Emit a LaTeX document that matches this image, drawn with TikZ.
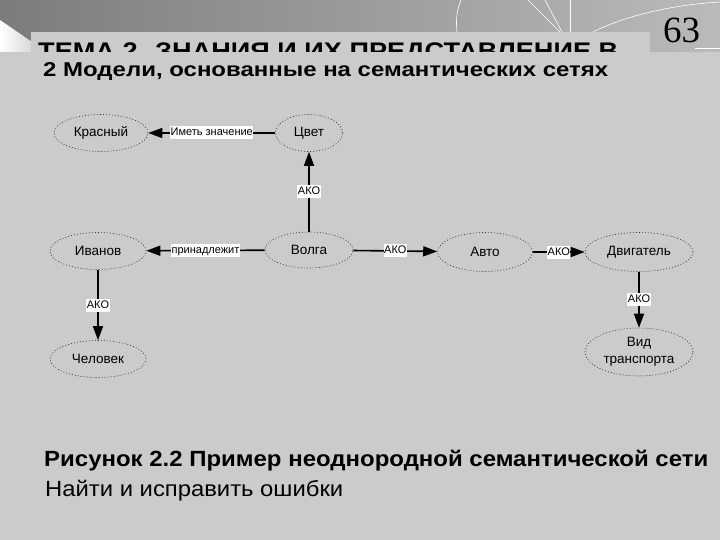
\documentclass[tikz,border=0pt]{standalone}
\usepackage{fontspec}
\usepackage{graphicx}
\setmainfont{Liberation Sans}
\newfontfamily\numfont{Liberation Serif}
\usetikzlibrary{shapes.geometric,arrows.meta}
\definecolor{panel}{HTML}{CBCBCB}
\definecolor{bandL}{HTML}{7C7C7C}
\definecolor{bandR}{HTML}{BABABA}
\definecolor{rim}{HTML}{333333}
\tikzset{
  concept/.style={ellipse, draw=rim, line width=0.6pt, dash pattern=on 1pt off 2pt,
    inner sep=0pt, font=\fontsize{13.5}{16}\selectfont, align=center},
  link/.style={line width=1.6pt, -{Triangle[length=14pt,width=10pt]}},
  lbl/.style={fill=white, inner xsep=0.6pt, inner ysep=1.5pt, font=\fontsize{11}{12}\selectfont,
    text height=8pt, text depth=2pt, midway},
  whiteline/.style={draw=white, line width=0.6pt}
}
\begin{document}
\begin{tikzpicture}[x=1pt,y=-1pt]
\useasboundingbox (0,0) rectangle (720,540);
\fill[panel] (0,0) rectangle (720,540);
% top band
\shade[left color=bandL, right color=bandR] (0,0) rectangle (720,52);
\shade[left color=white, right color=white!70!bandL] (0,20) -- (32,42) -- (32,52) -- (0,52) -- cycle;
\fill[panel] (31,32) rectangle (650,52);
% white decorative lines
\draw[whiteline] (461,0) .. controls (456,12) and (456,22) .. (457,32);
\draw[whiteline] (528,0) -- (560,32);
\draw[whiteline] (545,0) -- (562,32);
\draw[whiteline] (570,0) -- (570,32);
\draw[whiteline] (593,32) .. controls (625,16) and (670,5) .. (720,2);
\draw[whiteline] (695,48) -- (720,48);
% page number
\node[anchor=base west, inner sep=0] (num) at (663,43) {\numfont\fontsize{37}{40}\selectfont 63};
% title (clipped at its lower part)
\begin{scope}
\clip (31,32) rectangle (650,52);
\node[anchor=base west, inner sep=0] (title) at (38,60)
  {\resizebox{580pt}{\height}{\fontsize{24}{28}\selectfont\bfseries ТЕМА 2. ЗНАНИЯ И ИХ ПРЕДСТАВЛЕНИЕ В}};
\end{scope}
% subtitle
\node[anchor=base west, inner sep=0] (sub) at (43,76.7)
  {\resizebox{565pt}{\height}{\fontsize{20}{24}\selectfont\bfseries 2 Модели, основанные на семантических сетях}};
% nodes
\node[concept, minimum width=94pt, minimum height=37pt] (kras) at (101,133) {Красный};
\node[concept, minimum width=67pt, minimum height=37pt] (cvet) at (309,133) {Цвет};
\node[concept, minimum width=96pt, minimum height=37pt] (ivan) at (98,251) {Иванов};
\node[concept, minimum width=88pt, minimum height=36pt] (volga) at (309,250) {Волга};
\node[concept, minimum width=95pt, minimum height=39pt] (avto) at (485,252) {Авто};
\node[concept, minimum width=108pt, minimum height=39pt] (dvig) at (639,252) {Двигатель};
\node[concept, minimum width=108pt, minimum height=48pt] (vid) at (639,352) {Вид\\[1pt]транспорта};
\node[concept, minimum width=96pt, minimum height=37pt] (chel) at (98,359) {Человек};
% links
\draw[link] (cvet) -- node[lbl] {Иметь значение} (kras);
\draw[link] (volga) -- node[lbl] {АКО} (cvet);
\draw[link] (volga) -- node[lbl] {принадлежит} (ivan);
\draw[link] (volga) -- node[lbl] {АКО} (avto);
\draw[link] (avto) -- node[lbl] {АКО} (dvig);
\draw[link] (dvig) -- node[lbl] {АКО} (vid);
\draw[link] (ivan) -- node[lbl] {АКО} (chel);
% caption
\node[anchor=base west, inner sep=0] (cap) at (44,466)
  {\resizebox{664pt}{\height}{\fontsize{22}{26}\selectfont\bfseries Рисунок 2.2 Пример неоднородной семантической сети}};
\node[anchor=base west, inner sep=0] (task) at (45,496)
  {\resizebox{298pt}{\height}{\fontsize{22}{26}\selectfont Найти и исправить ошибки}};
\end{tikzpicture}
\end{document}
